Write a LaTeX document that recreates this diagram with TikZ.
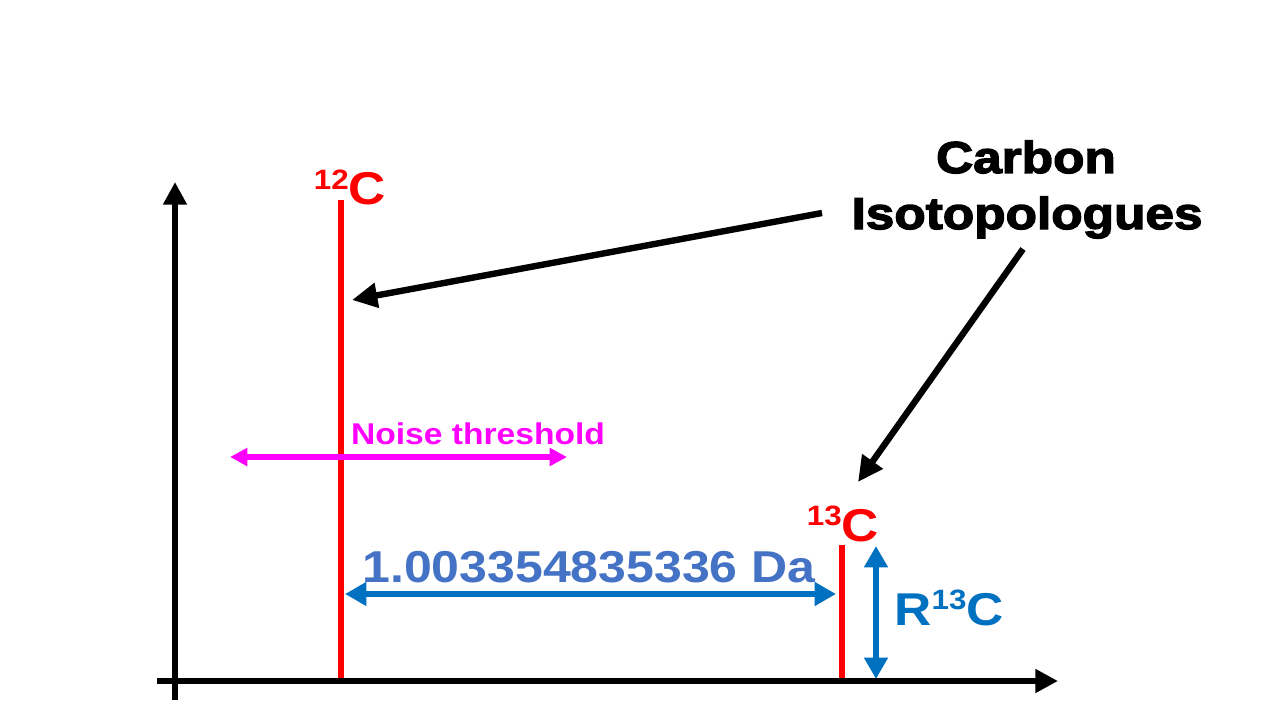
\documentclass[tikz,border=0pt]{standalone}
\usepackage{fontspec}
\setmainfont{Liberation Sans}[FakeStretch=1.12]
\newfontfamily\heavyfont{Liberation Sans}[FakeStretch=1.15,BoldFeatures={FakeBold=3}]
\usetikzlibrary{arrows.meta}
\definecolor{pkred}{HTML}{FF0000}
\definecolor{nzmag}{HTML}{FF00FF}
\definecolor{dblue}{HTML}{0070C0}
\definecolor{tblue}{HTML}{4472C4}
\newcommand{\fsz}[1]{\fontsize{#1}{#1}\selectfont}
\newcommand{\supnum}[2]{\raisebox{#1}{\fsz{21}#2}}
\tikzset{
  axis/.style={line width=4.8pt, -{Triangle[length=17pt,width=17pt]}},
  peak/.style={line width=4.5pt, draw=pkred},
  pointer/.style={line width=4.8pt, -{Triangle[length=19pt,width=18pt]}},
  noisearr/.style={line width=3.8pt, draw=nzmag, {Triangle[length=13pt,width=13pt]}-{Triangle[length=13pt,width=13pt]}},
  bluearr/.style={line width=4.8pt, draw=dblue, {Triangle[length=16pt,width=17pt]}-{Triangle[length=16pt,width=17pt]}},
  lbl/.style={anchor=base, inner sep=0pt, font=\bfseries}
}
\begin{document}
\begin{tikzpicture}[x=0.75pt,y=-0.75pt]
\useasboundingbox[fill=white] (0,0) rectangle (1280,720);
% axes
\coordinate (yb) at (175,700);
\coordinate (yt) at (175,182);
\coordinate (xl) at (157,681);
\coordinate (xr) at (1058,681);
\draw[axis] (yb) -- (yt);
\draw[axis] (xl) -- (xr);
% peaks
\coordinate (p12b) at (341,678);
\coordinate (p12t) at (341,200);
\coordinate (p13b) at (842,678);
\coordinate (p13t) at (842,545);
\draw[peak] (p12b) -- (p12t);
\draw[peak] (p13b) -- (p13t);
% labels of peaks
\node[lbl, text=pkred] (l12) at (350,205) {\supnum{11.5pt}{12}\fsz{34.5}C};
\node[lbl, text=pkred] (l13) at (843,541) {\supnum{12pt}{13}\fsz{34.5}C};
% title
\node[lbl, font=\heavyfont\bfseries\fsz{33.5}] (carbon) at (1026,173) {Carbon};
\node[lbl, font=\heavyfont\bfseries\fsz{33.5}] (iso) at (1027,229) {Isotopologues};
\coordinate (a1s) at (822,213);
\coordinate (a1e) at (352,300);
\coordinate (a2s) at (1023,249);
\coordinate (a2e) at (858,482);
\draw[pointer] (a1s) -- (a1e);
\draw[pointer] (a2s) -- (a2e);
% noise threshold
\node[lbl, text=nzmag, font=\bfseries\fsz{22.5}] (noise) at (478,444) {Noise threshold};
\coordinate (nl) at (230,457);
\coordinate (nr) at (567,457);
\draw[noisearr] (nl) -- (nr);
% mass difference
\node[lbl, text=tblue, font=\bfseries\fsz{33.5}] (mass) at (589,582) {1.003354835336 Da};
\coordinate (ml) at (345,594);
\coordinate (mr) at (836,594);
\draw[bluearr] (ml) -- (mr);
% ratio
\coordinate (rt) at (876,546);
\coordinate (rb) at (876,679);
\draw[bluearr] (rt) -- (rb);
\node[lbl, text=dblue] (ratio) at (949,625) {\fsz{34.5}R\supnum{12pt}{13}\fsz{34.5}C};
\end{tikzpicture}
\end{document}
